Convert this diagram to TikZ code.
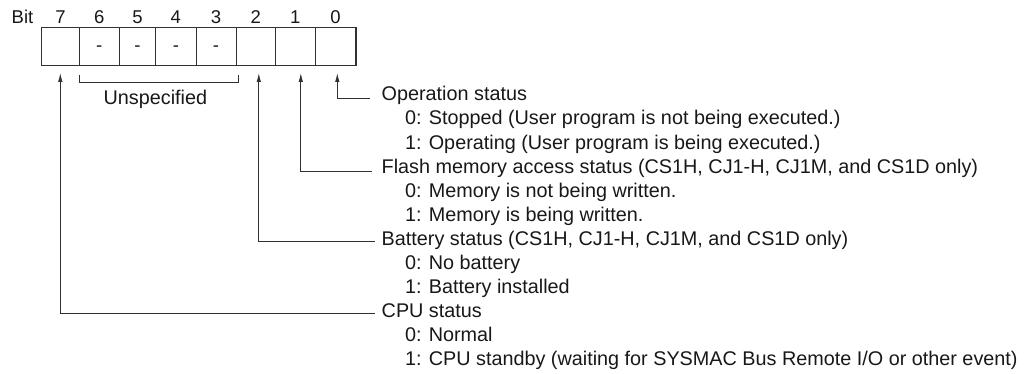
\documentclass[tikz,border=0pt]{standalone}
\usepackage{fontspec}
\setmainfont{Liberation Sans}
\usetikzlibrary{arrows.meta}
\definecolor{ink}{RGB}{25,23,24}
\definecolor{linec}{RGB}{50,48,49}
\begin{document}
\begin{tikzpicture}[x=1pt,y=-1pt,
  txt/.style={font=\fontsize{19.8}{24}\selectfont, text=ink, inner sep=0pt, outer sep=0pt, anchor=base west},
  bitlbl/.style={font=\fontsize{18.5}{20}\selectfont, text=ink, inner sep=0pt, outer sep=0pt, anchor=base},
  cell/.style={draw=linec, line width=0.9pt, inner sep=0pt, outer sep=0pt, minimum height=38pt, anchor=north west},
  conn/.style={draw=linec, line width=0.9pt, -{Latex[length=9pt,width=4.5pt]}},
  bracketline/.style={draw=linec, line width=0.9pt},
]
\useasboundingbox (0,0) rectangle (1028,374);
% register cells and bit numbers
\foreach \n/\l/\r in {7/41.7/79.3,6/79.3/119.3,5/119.3/155.7,4/155.7/196,3/196/236,2/236/275.3,1/275.3/315,0/315/356}{
  \pgfmathsetmacro\w{\r-\l}
  \pgfmathsetmacro\cx{(\l+\r)/2}
  \node[cell, minimum width=\w pt] (c\n) at (\l,27.3) {};
  \node[bitlbl] (b\n) at (\cx,24) {\n};
}
\draw[linec, line width=1.3pt] (c7.north west) rectangle (c0.south east);
\node[bitlbl, anchor=base west] (bitlabel) at (11.7,24) {Bit};
% unspecified dashes
\foreach \n in {6,5,4,3}{
  \node[bitlbl] (d\n) at ([yshift=-5pt]c\n.center) {-};
}
% bracket and label
\coordinate (brL) at (79.3,75);
\coordinate (brR) at (238,75);
\draw[bracketline] (brL) |- (238,82) -- (brR);
\node[txt, anchor=base] (unspec) at (155.4,104.3) {Unspecified};
% arrow tips
\coordinate (t0) at (337.3,73);
\coordinate (t1) at (300.8,73);
\coordinate (t2) at (258.8,73);
\coordinate (t7) at (60.3,73);
% descriptions
\node[txt] (h0)  at (381.7,100.9)  {Operation status};
\node[txt] (h0a) at (405,125)      {0: Stopped (User program is not being executed.)};
\node[txt] (h0b) at (405,149.1)    {1: Operating (User program is being executed.)};
\node[txt] (h1)  at (381.7,173.2)  {Flash memory access status (CS1H, CJ1-H, CJ1M, and CS1D only)};
\node[txt] (h1a) at (405,197.3)    {0: Memory is not being written.};
\node[txt] (h1b) at (405,221.4)    {1: Memory is being written.};
\node[txt] (h2)  at (381.7,245.5)  {Battery status (CS1H, CJ1-H, CJ1M, and CS1D only)};
\node[txt] (h2a) at (405,269.5)    {0: No battery};
\node[txt] (h2b) at (405,293.5)    {1: Battery installed};
\node[txt] (h7)  at (381.7,317.4)  {CPU status};
\node[txt] (h7a) at (405,341.3)    {0: Normal};
\node[txt] (h7b) at (405,365.1)    {1: CPU standby (waiting for SYSMAC Bus Remote I/O or other event)};
% connectors
\draw[conn] ([xshift=-12pt,yshift=2pt]h0.base west) -| (t0);
\draw[conn] ([xshift=-10pt,yshift=2pt]h1.base west) -| (t1);
\draw[conn] ([xshift=-7pt,yshift=4pt]h2.base west) -| (t2);
\draw[conn] ([xshift=-7pt,yshift=4pt]h7.base west) -| (t7);
\end{tikzpicture}
\end{document}
